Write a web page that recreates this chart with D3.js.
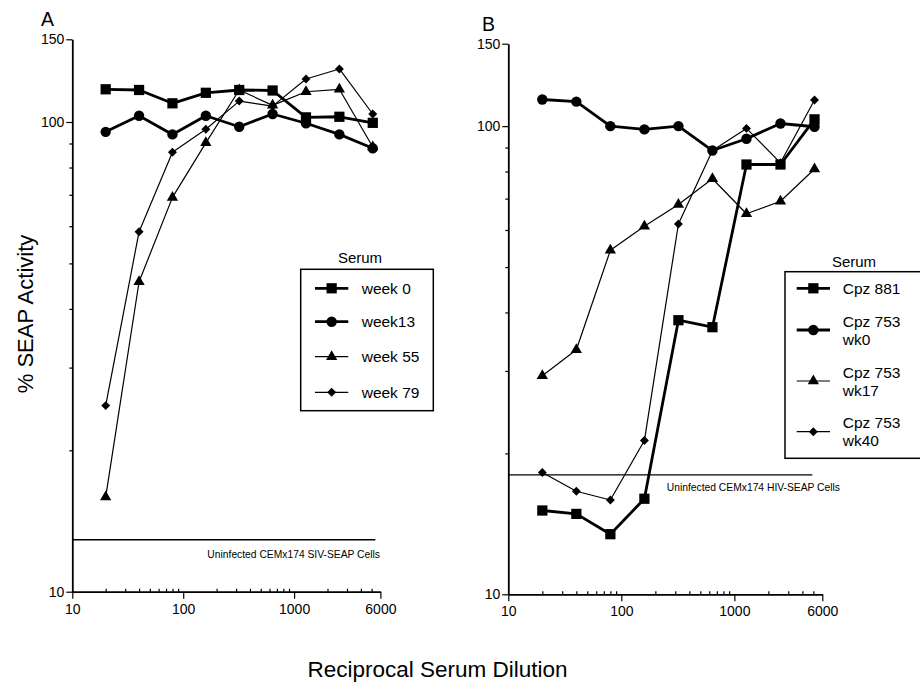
<!DOCTYPE html>
<html>
<head>
<meta charset="utf-8">
<script src="https://cdn.jsdelivr.net/npm/d3@7"></script>
<style>
  body { margin: 0; background: #fff; }
  svg { display: block; }
  text { font-family: "Liberation Sans", Arial, Helvetica, sans-serif; fill: #000; }
</style>
</head>
<body>
<div id="root"></div>
<script>
// reciprocal serum dilutions (x)
const dilutions = [20, 40, 80, 160, 320, 640, 1280, 2560, 5120];

// panel A: % SEAP activity, SIV
const week0  = [117.4, 117, 109.6, 115.4, 117, 116.7, 102.3, 102.6, 99.6];
const week13 = [95.3, 103.1, 94.1, 103.1, 97.7, 104, 99.4, 94.1, 87.9];
const week55 = [15.9, 45.7, 69.1, 90.3, 117, 108.5, 116, 117.4, 88.5];
const week79 = [24.9, 58.4, 86.2, 96.5, 110.8, 108.1, 123.5, 129.7, 104];

// panel B: % SEAP activity, HIV
const cpz881   = [15.1, 14.85, 13.44, 16.0, 38.5, 37.2, 82.8, 82.8, 103.4];
const cpz753w0 = [114, 112.8, 100, 98.4, 100, 88.7, 94, 101.3, 99.7];
const cpz753w17 = [29.3, 33.3, 54.3, 61.1, 68, 77.2, 65, 69.1, 81];
const cpz753w40 = [18.2, 16.6, 15.9, 21.3, 61.8, 88.7, 98.9, 83.5, 113.7];

// uninfected-cell baselines
const baselineA = { value: 12.9, xEnd: 5400, label: "Uninfected CEMx174 SIV-SEAP Cells" };
const baselineB = { value: 18.0, xEnd: 4900, label: "Uninfected CEMx174 HIV-SEAP Cells" };

// ticks
const xMajorTicks = [10, 100, 1000, 6000];
const xMinorTicks = [20, 30, 40, 50, 60, 70, 80, 90, 200, 300, 400, 500, 600, 700, 800, 900, 2000, 3000, 4000, 5000];
const yMajorTicks = [10, 100, 150];
const yMinorTicks = [20, 30, 40, 50, 60, 70, 80, 90];

const seriesA = [
  { name: ["week 0"], values: week0, symbol: "square", thick: true },
  { name: ["week13"], values: week13, symbol: "circle", thick: true },
  { name: ["week 55"], values: week55, symbol: "triangle", thick: false },
  { name: ["week 79"], values: week79, symbol: "diamond", thick: false }
];
const seriesB = [
  { name: ["Cpz 881"], values: cpz881, symbol: "square", thick: true },
  { name: ["Cpz 753", "wk0"], values: cpz753w0, symbol: "circle", thick: true },
  { name: ["Cpz 753", "wk17"], values: cpz753w17, symbol: "triangle", thick: false },
  { name: ["Cpz 753", "wk40"], values: cpz753w40, symbol: "diamond", thick: false }
];

const W = 920, H = 684;
const svg = d3.select("#root").append("svg").attr("width", W).attr("height", H);

function symbolPath(kind) {
  if (kind === "square") return d3.symbol(d3.symbolSquare, 105)();
  if (kind === "circle") return d3.symbol(d3.symbolCircle, 85)();
  if (kind === "triangle") return d3.symbol(d3.symbolTriangle, 55)();
  return d3.symbol(d3.symbolSquare, 40)();
}
function symbolRotate(kind) { return kind === "diamond" ? " rotate(45)" : ""; }

function drawPanel(opt) {
  const x = d3.scaleLog().domain([10, 6000]).range(opt.xRange);
  const y = d3.scaleLog().domain([10, 150]).range(opt.yRange);
  const g = svg.append("g");

  g.append("text").attr("x", opt.titlePos[0]).attr("y", opt.titlePos[1])
    .attr("font-size", 19.5).text(opt.title);

  // axes
  g.append("g").attr("transform", `translate(${opt.xRange[0]},0)`)
    .call(d3.axisLeft(y).tickValues(yMajorTicks).tickFormat(d3.format("d")).tickSize(6).tickSizeOuter(0).tickPadding(2));
  g.append("g").attr("transform", `translate(${opt.xRange[0]},0)`)
    .call(d3.axisLeft(y).tickValues(yMinorTicks).tickFormat("").tickSize(3).tickSizeOuter(0))
    .select(".domain").remove();
  g.append("g").attr("transform", `translate(0,${opt.yRange[0]})`)
    .call(d3.axisBottom(x).tickValues(xMajorTicks).tickFormat(d3.format("d")).tickSize(7).tickSizeOuter(0).tickPadding(5));
  g.append("g").attr("transform", `translate(0,${opt.yRange[0]})`)
    .call(d3.axisTop(x).tickValues(xMinorTicks).tickFormat("").tickSize(3).tickSizeOuter(0))
    .select(".domain").remove();
  g.selectAll(".domain").attr("stroke-width", 1.8);
  g.selectAll(".tick line").attr("stroke-width", 1.2);
  g.selectAll(".tick text").attr("font-size", 14)
    .style("font-family", '"Liberation Sans", Arial, sans-serif');

  // baseline
  g.append("line")
    .attr("x1", x(10)).attr("x2", x(opt.baseline.xEnd))
    .attr("y1", y(opt.baseline.value)).attr("y2", y(opt.baseline.value))
    .attr("stroke", "#000").attr("stroke-width", 1.3);
  g.append("text").attr("x", opt.baseLabelX).attr("y", y(opt.baseline.value) + opt.baseLabelDy)
    .attr("text-anchor", "end").attr("font-size", 10.3).text(opt.baseline.label);

  // series (thin first, thick on top)
  const line = d3.line().x((d, i) => x(dilutions[i])).y(d => y(d));
  const order = opt.series.slice().reverse();
  order.forEach(s => {
    g.append("path").datum(s.values).attr("d", line)
      .attr("fill", "none").attr("stroke", "#000")
      .attr("stroke-width", s.thick ? 2.8 : 1.2).attr("stroke-linejoin", "round");
    g.selectAll(null).data(s.values).join("path")
      .attr("d", symbolPath(s.symbol))
      .attr("transform", (d, i) => `translate(${x(dilutions[i])},${y(d)})` + symbolRotate(s.symbol))
      .attr("fill", "#000");
  });

  // legend
  const L = opt.legend;
  g.append("text").attr("x", L.titleX).attr("y", L.titleY).attr("text-anchor", "middle")
    .attr("font-size", 15).text("Serum");
  g.append("rect").attr("x", L.box[0]).attr("y", L.box[1]).attr("width", L.box[2]).attr("height", L.box[3])
    .attr("fill", "#fff").attr("stroke", "#000").attr("stroke-width", 1.5);
  opt.series.forEach((s, i) => {
    const cy = L.rows[i];
    const row = g.append("g").attr("transform", `translate(${L.lineX},${cy})`);
    row.append("line").attr("x1", 0).attr("x2", L.lineW).attr("stroke", "#000")
      .attr("stroke-width", s.thick ? 2.8 : 1.2);
    row.append("path").attr("d", symbolPath(s.symbol))
      .attr("transform", `translate(${L.lineW / 2},0)` + symbolRotate(s.symbol)).attr("fill", "#000");
    const t = g.append("text").attr("x", L.textX).attr("font-size", 15.5);
    const n = s.name.length;
    s.name.forEach((ln, k) => {
      t.append("tspan").attr("x", L.textX).attr("y", cy + 5.5 + (k - (n - 1) / 2) * 18).text(ln);
    });
  });
}

drawPanel({
  title: "A", titlePos: [41, 26],
  xRange: [72.3, 380.4], yRange: [591.7, 39.3],
  series: seriesA, baseline: baselineA, baseLabelX: 380, baseLabelDy: 18,
  legend: { titleX: 360, titleY: 263, box: [300.7, 269.3, 132.6, 141.4],
            rows: [288.3, 321.7, 356.7, 392.3], lineX: 315, lineW: 33.3, textX: 361.7 }
});

drawPanel({
  title: "B", titlePos: [482, 31],
  xRange: [508.3, 822.3], yRange: [594.3, 43.7],
  series: seriesB, baseline: baselineB, baseLabelX: 840, baseLabelDy: 16,
  legend: { titleX: 854, titleY: 267, box: [785, 271.7, 140, 186.6],
            rows: [288.3, 330, 381, 431.7], lineX: 796.7, lineW: 33.3, textX: 842.7 }
});

// y axis label
svg.append("text").attr("transform", "translate(33,314) rotate(-90)")
  .attr("text-anchor", "middle").attr("font-size", 22).text("% SEAP Activity");

// x axis label
svg.append("text").attr("x", 437.5).attr("y", 677)
  .attr("text-anchor", "middle").attr("font-size", 22.5).text("Reciprocal Serum Dilution");
</script>
</body>
</html>
